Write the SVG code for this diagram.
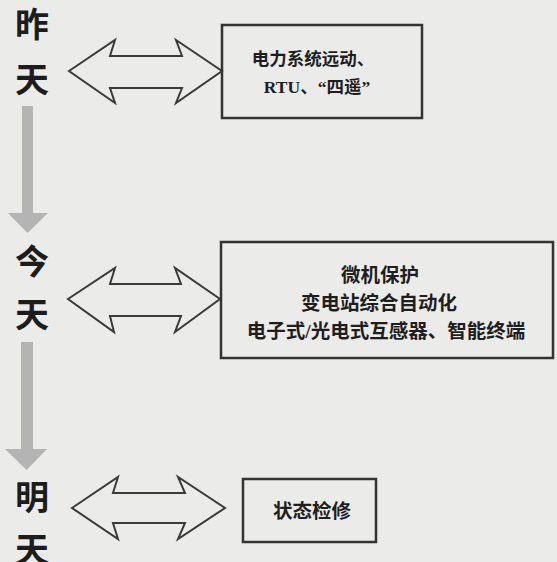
<svg xmlns="http://www.w3.org/2000/svg" width="557" height="562" viewBox="0 0 557 562">
<style>
.bg{fill:#ebebe9}
.lbl{font-family:"Noto Sans CJK SC","Noto Sans CJK JP",sans-serif;font-weight:bold;font-size:34px;fill:#1c1c1c;text-anchor:middle}
.box{fill:none;stroke:#333;stroke-width:2.5}
.txt{font-family:"Liberation Serif","Noto Sans CJK SC",serif;font-weight:bold;fill:#1e1e1e;text-anchor:middle}
.dbl{fill:none;stroke:#3a3a3a;stroke-width:2;stroke-linejoin:miter}
.down{fill:#b4b4b4}
</style>
<rect class="bg" x="0" y="0" width="557" height="562"/>
<g id="labels">
<g id="yesterday"><text class="lbl" x="32" y="37">昨</text><text class="lbl" x="32" y="92">天</text></g>
<g id="today"><text class="lbl" x="32" y="274">今</text><text class="lbl" x="32" y="327">天</text></g>
<g id="tomorrow"><text class="lbl" x="32" y="510">明</text><text class="lbl" x="32" y="562">天</text></g>
</g>
<g id="connectors">
<polygon class="down" points="22,106 33,106 33,213 48,213 27.5,233 8,213 22,213"/>
<polygon class="down" points="21,342 33,342 33,449 47,449 26.5,470 5,449 21,449"/>
<polygon class="dbl" points="69,71 115,40 110,56 182,56 176,40 222,71 176,103 182,88 110,88 115,103"/>
<polygon class="dbl" points="68,299 115,268 110,284 181,284 175,268 220,299 175,332 181,316 110,316 114,332"/>
<polygon class="dbl" points="72,508 118,477 113,493 185,493 178,477 225,508 178,539 185,523 113,523 118,539"/>
</g>
<g id="box1">
<rect class="box" x="222" y="25" width="200" height="93"/>
<text class="txt" x="313" y="65" font-size="17.5">电力系统远动、</text>
<text class="txt" x="317" y="93" font-size="17.5">RTU、“四遥”</text>
</g>
<g id="box2">
<rect class="box" x="221" y="242" width="332" height="116"/>
<text class="txt" x="380" y="282" font-size="19.5">微机保护</text>
<text class="txt" x="379" y="310" font-size="19.5">变电站综合自动化</text>
<text class="txt" x="386" y="338" font-size="19.5">电子式/光电式互感器、智能终端</text>
</g>
<g id="box3">
<rect class="box" x="243" y="479" width="133" height="63"/>
<text class="txt" x="312" y="518" font-size="19.5">状态检修</text>
</g>
</svg>
